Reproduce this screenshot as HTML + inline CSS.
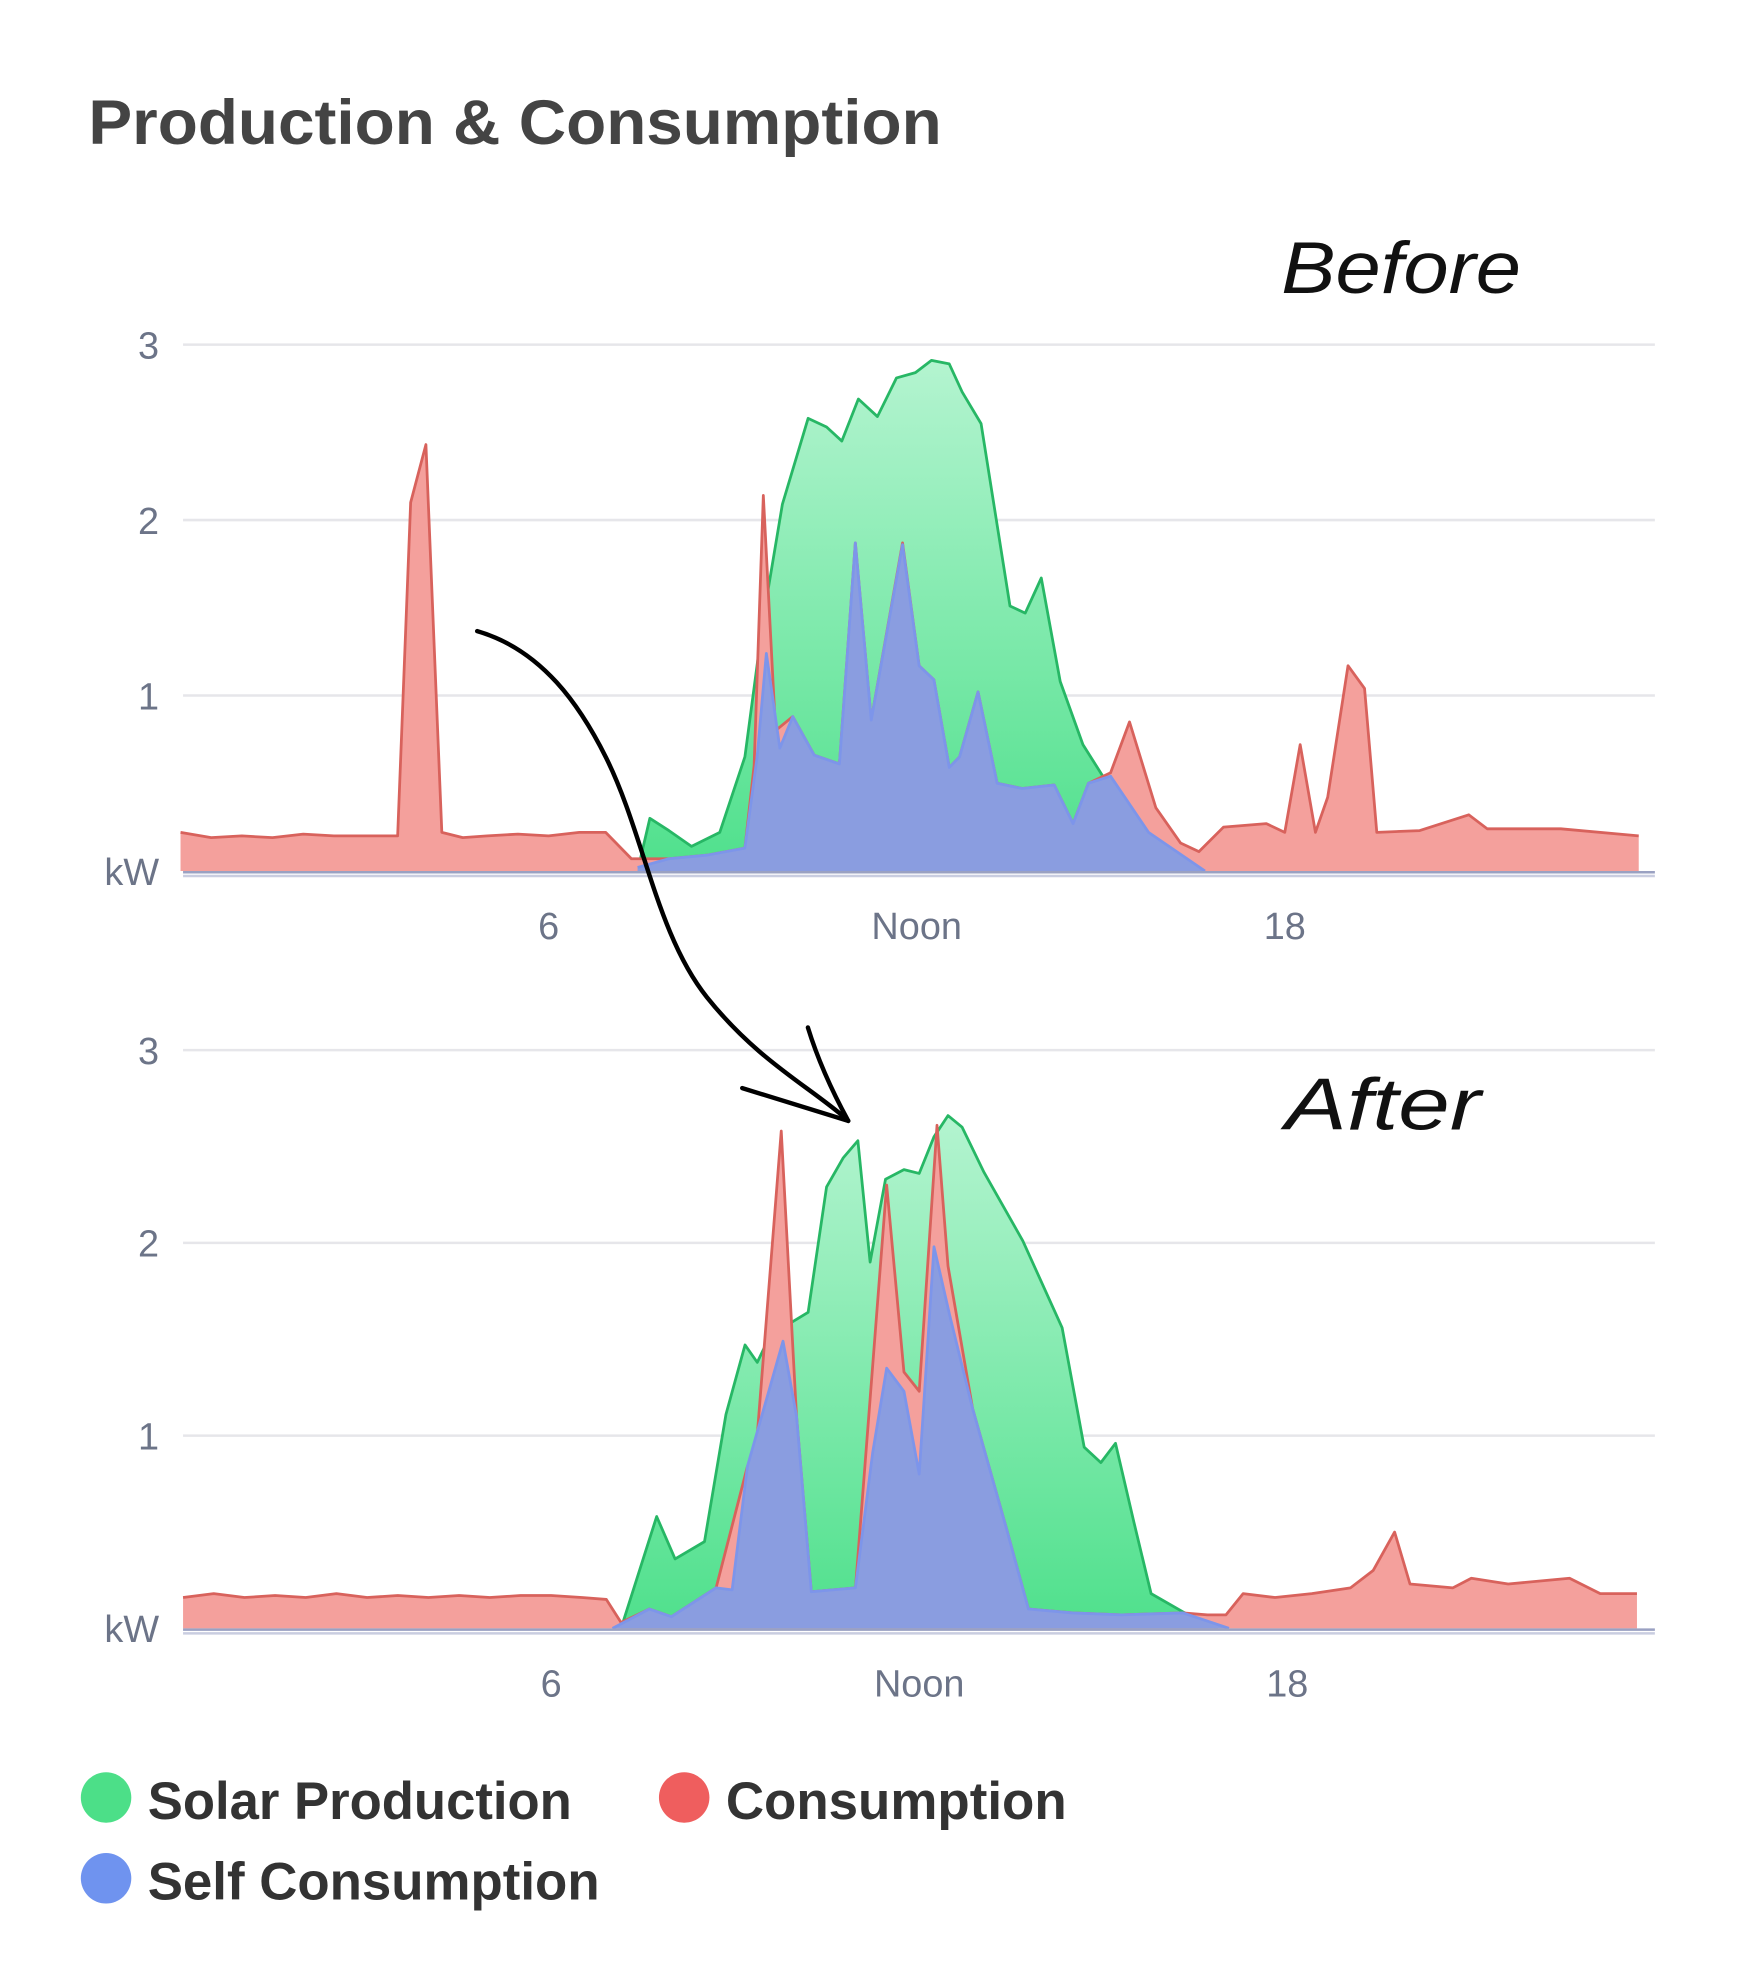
<!DOCTYPE html>
<html><head><meta charset="utf-8"><style>
html,body{margin:0;padding:0;background:#fff}
svg{display:block}
</style></head><body>
<svg id="chart" width="1742" height="1966" viewBox="0 0 1380 1557.5" xmlns="http://www.w3.org/2000/svg">
<defs>
<linearGradient id="gg" x1="0" y1="0" x2="0" y2="1"><stop offset="0" stop-color="#b4f4d0"/><stop offset="1" stop-color="#4fe08c"/></linearGradient>
</defs>
<text x="70" y="114" font-family="Liberation Sans, sans-serif" font-weight="bold" font-size="50" fill="#444" textLength="676" lengthAdjust="spacingAndGlyphs">Production &amp; Consumption</text>
<text x="1015" y="232" font-family="Liberation Sans, sans-serif" font-style="italic" font-size="58" fill="#111" textLength="190" lengthAdjust="spacingAndGlyphs">Before</text>
<text x="1018" y="895" font-family="Liberation Sans, sans-serif" font-style="italic" font-size="58" fill="#111" textLength="155" lengthAdjust="spacingAndGlyphs">After</text>
<g id="top"></g>
<g id="bot"></g>
<g fill="none" stroke="#000" stroke-width="3.5" stroke-linecap="round">
<path d="M378,500 C430,515 460,560 480,600 C510,660 520,740 560,790 C600,840 640,860 670,886"/>
<path d="M588,862 L672,888"/>
<path d="M640,814 C648,840 660,866 672,888"/>
</g>
<g font-family="Liberation Sans, sans-serif" font-weight="bold" font-size="42" fill="#333">
<g><circle cx="84" cy="1424" r="20" fill="#4cdf88"/><text x="117" y="1441" textLength="336" lengthAdjust="spacingAndGlyphs">Solar Production</text></g>
<g><circle cx="542" cy="1424" r="20" fill="#ef5e5e"/><text x="575" y="1441" textLength="270" lengthAdjust="spacingAndGlyphs">Consumption</text></g>
<g><circle cx="84" cy="1488" r="20" fill="#6f93ef"/><text x="117" y="1505" textLength="358" lengthAdjust="spacingAndGlyphs">Self Consumption</text></g>
</g>
</svg>
<script>
const xTickHours=[6,12,18];
const xTickLabels=["6","Noon","18"];
const yTicks=[1,2,3];
// BEFORE
const topConsT=[0,0.5,1,1.5,2,2.5,3,3.54,3.75,4.0,4.26,4.6,5,5.5,6,6.5,6.93,7.35,7.96,8.58,9.2,9.35,9.5,9.7,9.98,10.33,10.74,11.0,11.26,11.77,12.04,12.28,12.53,12.7,13.0,13.31,13.72,14.24,14.55,14.8,15.16,15.47,15.9,16.3,16.6,17.0,17.7,18.0,18.25,18.5,18.7,19.03,19.3,19.5,20.2,21.0,21.3,22.5,23.77];
const topConsV=[0.22,0.19,0.2,0.19,0.21,0.2,0.2,0.2,2.1,2.43,0.22,0.19,0.2,0.21,0.2,0.22,0.22,0.07,0.07,0.09,0.13,0.6,2.14,0.8,0.88,0.66,0.61,1.87,0.86,1.87,1.17,1.09,0.59,0.65,1.02,0.5,0.47,0.49,0.27,0.5,0.56,0.85,0.36,0.16,0.11,0.25,0.27,0.22,0.72,0.22,0.42,1.17,1.04,0.22,0.23,0.32,0.24,0.24,0.2];
const topSolarT=[7.45,7.65,7.96,8.33,8.79,9.2,9.5,9.81,10.23,10.53,10.78,11.05,11.36,11.67,11.98,12.24,12.53,12.74,13.05,13.52,13.77,14.03,14.34,14.71,15.16,15.78,16.2,16.5];
const topSolarV=[0,0.3,0.23,0.14,0.22,0.65,1.44,2.09,2.58,2.53,2.45,2.69,2.59,2.81,2.84,2.91,2.89,2.73,2.55,1.51,1.47,1.67,1.08,0.72,0.47,0.22,0.13,0];
const topSelfT=[7.45,7.96,8.58,9.2,9.4,9.55,9.77,9.98,10.33,10.74,11.0,11.26,11.77,12.04,12.28,12.53,12.7,13.0,13.31,13.72,14.24,14.55,14.8,15.16,15.78,16.7];
const topSelfV=[0.02,0.07,0.09,0.13,0.65,1.24,0.7,0.88,0.66,0.61,1.87,0.86,1.86,1.17,1.09,0.59,0.65,1.02,0.5,0.47,0.49,0.27,0.5,0.54,0.22,0];
// AFTER
const botConsT=[0,0.5,1,1.5,2,2.5,3,3.5,4,4.5,5,5.5,6,6.5,6.9,7.14,7.6,7.96,8.69,9.2,9.33,9.75,10.0,10.24,10.96,11.24,11.47,11.75,12.0,12.29,12.47,12.87,13.42,13.78,14.5,15.3,16.3,16.7,17.0,17.28,17.8,18.4,19.03,19.4,19.75,20.0,20.7,21.0,21.6,22.6,23.1,23.7];
const botConsV=[0.16,0.18,0.16,0.17,0.16,0.18,0.16,0.17,0.16,0.17,0.16,0.17,0.17,0.16,0.15,0.03,0.1,0.06,0.21,0.84,0.88,2.58,1.1,0.19,0.21,1.36,2.3,1.33,1.23,2.61,1.88,1.14,0.52,0.1,0.08,0.07,0.08,0.07,0.07,0.18,0.16,0.18,0.21,0.3,0.5,0.23,0.21,0.26,0.23,0.26,0.18,0.18];
const botSolarT=[7.14,7.72,8.02,8.5,8.85,9.16,9.36,9.57,10.19,10.49,10.76,11.0,11.2,11.45,11.75,12.0,12.24,12.47,12.7,13.05,13.69,14.33,14.69,14.96,15.2,15.5,15.78,16.33,16.87];
const botSolarV=[0,0.58,0.36,0.45,1.11,1.47,1.38,1.52,1.64,2.29,2.44,2.53,1.9,2.33,2.38,2.36,2.55,2.66,2.6,2.37,2.01,1.56,0.94,0.86,0.96,0.55,0.18,0.08,0];
const botSelfT=[7.0,7.6,7.96,8.69,8.95,9.2,9.78,10.0,10.24,10.96,11.24,11.47,11.75,12.0,12.24,12.5,12.87,13.42,13.78,14.5,15.3,16.3,17.05];
const botSelfV=[0,0.1,0.06,0.21,0.2,0.84,1.49,1.1,0.19,0.21,0.91,1.35,1.23,0.8,1.98,1.62,1.14,0.52,0.1,0.08,0.07,0.08,0];

const NS="http://www.w3.org/2000/svg";
function mk(tag,attrs,parent){const e=document.createElementNS(NS,tag);for(const k in attrs)e.setAttribute(k,attrs[k]);parent.appendChild(e);return e;}
function drawChart(g,cfg){
  const x=h=>cfg.x0+h*cfg.hw;
  const y=v=>cfg.y0-v*cfg.kw;
  yTicks.forEach(t=>{
    const l=mk('line',{x1:145,x2:1311,y1:y(t),y2:y(t),stroke:'#e6e6ea','stroke-width':2},g);
    
    
    const tx=mk('text',{x:126,y:y(t)+11,'text-anchor':'end','font-family':'Liberation Sans, sans-serif','font-size':30,fill:'#6c7488'},g);
    tx.textContent=t;
    
    
  });
  const kw=mk('text',{x:126,y:cfg.y0+11,'text-anchor':'end','font-family':'Liberation Sans, sans-serif','font-size':30,fill:'#6c7488'},g);
  kw.textContent='kW';
  
  
  function area(T,V,fill,stroke,name){
    let d='M'+x(T[0])+','+cfg.y0;
    T.forEach((t,i)=>{d+=' L'+x(t).toFixed(1)+','+y(V[i]).toFixed(1);});
    d+=' L'+x(T[T.length-1])+','+cfg.y0+' Z';
    const p=mk('path',{d:d,fill:fill,stroke:'none'},g);
    
    
    let ld='';
    T.forEach((t,i)=>{ld+=(i?' L':'M')+x(t).toFixed(1)+','+y(V[i]).toFixed(1);});
    const l=mk('path',{d:ld,fill:'none',stroke:stroke,'stroke-width':2.2,'stroke-linejoin':'round'},g);
    
    
  }
  area(cfg.solarT,cfg.solarV,'url(#gg)','#27b765','solar-production');
  area(cfg.consT,cfg.consV,'#f4a09c','#d8625c','consumption');
  area(cfg.selfT,cfg.selfV,'#8a9de0','#7d95ea','self-consumption');
  const b1=mk('line',{x1:145,x2:1311,y1:cfg.y0+1,y2:cfg.y0+1,stroke:'#9aa1c2','stroke-width':2},g);
  
  
  const b2=mk('line',{x1:145,x2:1311,y1:cfg.y0+4,y2:cfg.y0+4,stroke:'#c9cde0','stroke-width':2},g);
  
  
  xTickHours.forEach((h,i)=>{
    const tx=mk('text',{x:x(h),y:cfg.y0+54,'text-anchor':'middle','font-family':'Liberation Sans, sans-serif','font-size':30,fill:'#6c7488'},g);
    tx.textContent=xTickLabels[i];
    
    
  });
}
drawChart(document.getElementById('top'),{x0:143,hw:48.6,y0:690,kw:139,consT:topConsT,consV:topConsV,solarT:topSolarT,solarV:topSolarV,selfT:topSelfT,selfV:topSelfV});
drawChart(document.getElementById('bot'),{x0:145,hw:48.6,y0:1290,kw:152.7,consT:botConsT,consV:botConsV,solarT:botSolarT,solarV:botSolarV,selfT:botSelfT,selfV:botSelfV});
</script>
</body></html>
